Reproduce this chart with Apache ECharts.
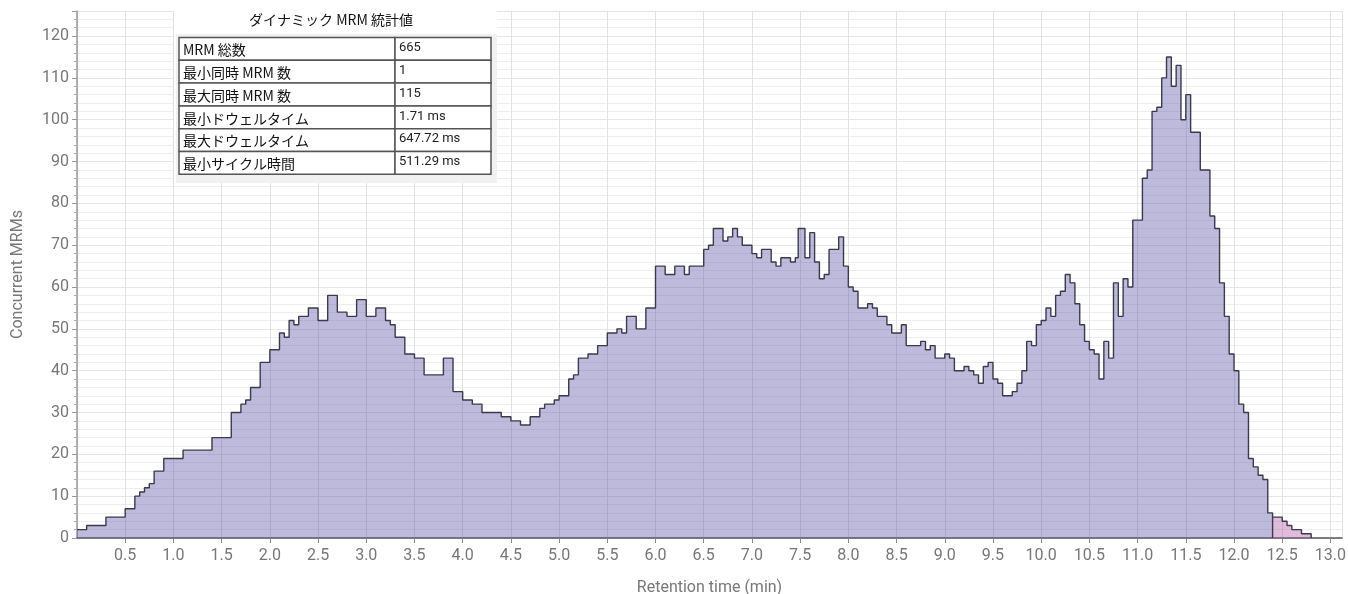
<!DOCTYPE html>
<html>
<head>
<meta charset="utf-8">
<script src="https://cdn.jsdelivr.net/npm/echarts@6/dist/echarts.min.js"></script>
<style>
  html, body { margin: 0; padding: 0; background: #ffffff; }
  #chart { width: 1348px; height: 594px; }
</style>
</head>
<body>
<div id="chart"></div>
<script>
// Concurrent MRM count over retention time (value holds until the next change point)
const times = [
  0.00, 0.10, 0.30, 0.50, 0.60, 0.65, 0.70, 0.75, 0.80, 0.90, 1.10, 1.40, 1.60, 1.70, 1.75, 1.80, 1.90,
  2.00, 2.10, 2.15, 2.20, 2.25, 2.30, 2.40, 2.50, 2.60, 2.70, 2.80, 2.90,
  3.00, 3.10, 3.20, 3.25, 3.30, 3.40, 3.50, 3.60, 3.80, 3.90,
  4.00, 4.10, 4.20, 4.40, 4.50, 4.60, 4.70, 4.80, 4.85, 4.95,
  5.00, 5.10, 5.15, 5.20, 5.30, 5.40, 5.50, 5.60, 5.65, 5.70, 5.80, 5.90,
  6.00, 6.10, 6.20, 6.30, 6.35, 6.50, 6.55, 6.60, 6.70, 6.75, 6.80, 6.85, 6.90,
  7.00, 7.05, 7.10, 7.20, 7.25, 7.30, 7.40, 7.45, 7.48, 7.55, 7.60, 7.65, 7.70, 7.75, 7.80, 7.90, 7.95,
  8.00, 8.05, 8.10, 8.20, 8.25, 8.30, 8.40, 8.45, 8.55, 8.60, 8.75, 8.80, 8.85, 8.90,
  9.00, 9.05, 9.10, 9.20, 9.25, 9.30, 9.35, 9.40, 9.45, 9.50, 9.55, 9.60, 9.70, 9.75, 9.80, 9.85, 9.90, 9.95,
  10.00, 10.05, 10.10, 10.15, 10.20, 10.25, 10.30, 10.35, 10.40, 10.45, 10.50, 10.55, 10.60, 10.65, 10.70, 10.75, 10.80, 10.85, 10.90, 10.95,
  11.05, 11.10, 11.15, 11.20, 11.25, 11.30, 11.35, 11.40, 11.45, 11.50, 11.55, 11.65, 11.75, 11.80, 11.85, 11.90, 11.95,
  12.00, 12.05, 12.10, 12.15, 12.20, 12.25, 12.30, 12.35, 12.40
];
const counts = [
  2, 3, 5, 7, 10, 11, 12, 13, 16, 19, 21, 24, 30, 32, 33, 36, 42,
  45, 49, 48, 52, 51, 53, 55, 52, 58, 54, 53, 57,
  53, 55, 52, 51, 48, 44, 43, 39, 43, 35,
  33, 32, 30, 29, 28, 27, 29, 31, 32, 33,
  34, 38, 39, 43, 44, 46, 49, 50, 49, 53, 50, 55,
  65, 63, 65, 63, 65, 69, 70, 74, 71, 72, 74, 72, 70,
  68, 67, 69, 66, 65, 67, 66, 67, 74, 67, 73, 66, 62, 63, 69, 72, 65,
  60, 59, 55, 56, 55, 53, 51, 49, 51, 46, 47, 45, 46, 43,
  44, 43, 40, 41, 40, 39, 37, 41, 42, 38, 37, 34, 35, 37, 40, 47, 46, 51,
  52, 55, 53, 58, 59, 63, 61, 56, 51, 47, 45, 44, 38, 47, 43, 61, 53, 62, 60, 76,
  86, 88, 102, 103, 110, 115, 108, 113, 100, 106, 97, 88, 77, 74, 61, 53, 44,
  40, 32, 30, 19, 17, 15, 14, 6, 0
];

// Trailing segment drawn in a second colour
const tailTimes = [12.40, 12.50, 12.55, 12.60, 12.70, 12.80];
const tailCounts = [5, 4, 3, 2, 1, 0];

// Summary table
const statTitle = 'ダイナミック MRM 統計値';
const statLabels = ['MRM 総数', '最小同時 MRM 数', '最大同時 MRM 数', '最小ドウェルタイム', '最大ドウェルタイム', '最小サイクル時間'];
const statValues = ['665', '1', '115', '1.71 ms', '647.72 ms', '511.29 ms'];

const FONT = 'Roboto, "Noto Sans CJK JP", sans-serif';
const CJK = '"Noto Sans CJK JP", Roboto, sans-serif';

function tableGraphics() {
  const x0 = 179, xMid = 395, x1 = 491, y0 = 37.5, rowH = 22.8;
  const els = [];
  // white panel hiding the grid behind the title and table
  els.push({
    type: 'rect', z: 100,
    shape: { x: 174, y: 9, width: 323, height: 174 },
    style: { fill: '#ffffff' }
  });
  // light grey backing around the table
  els.push({
    type: 'rect', z: 100,
    shape: { x: 176, y: 34, width: 321, height: 149 },
    style: { fill: '#f1f1f1' }
  });
  els.push({
    type: 'text', z: 101,
    style: { x: 331, y: 20, text: statTitle, fill: '#111', font: '14px ' + CJK, textAlign: 'center', textVerticalAlign: 'middle' }
  });
  statLabels.forEach((lab, i) => {
    const y = y0 + i * rowH;
    els.push({
      type: 'rect', z: 101,
      shape: { x: x0, y: y, width: xMid - x0, height: rowH },
      style: { fill: '#ffffff', stroke: '#555', lineWidth: 1.5 }
    });
    els.push({
      type: 'rect', z: 101,
      shape: { x: xMid, y: y, width: x1 - xMid, height: rowH },
      style: { fill: '#ffffff', stroke: '#555', lineWidth: 1.5 }
    });
    els.push({
      type: 'text', z: 102,
      style: { x: x0 + 4, y: y + rowH / 2 + 1, text: lab, fill: '#111', font: '14px ' + CJK, textVerticalAlign: 'middle' }
    });
    els.push({
      type: 'text', z: 102,
      style: { x: xMid + 4, y: y + rowH / 2 - 1, text: statValues[i], fill: '#222', font: '13px ' + FONT, textVerticalAlign: 'middle' }
    });
  });
  return els;
}

const chart = echarts.init(document.getElementById('chart'), null, { renderer: 'canvas' });

chart.setOption({
  animation: false,
  backgroundColor: '#ffffff',
  grid: { left: 77, right: 6, top: 11, bottom: 56, containLabel: false, outerBoundsMode: 'none' },
  xAxis: {
    type: 'value',
    min: 0, max: 13.12, interval: 0.5,
    name: 'Retention time (min)',
    nameLocation: 'middle', nameGap: 42,
    nameTextStyle: { color: '#777', fontSize: 16, fontFamily: FONT },
    axisLine: { show: true, lineStyle: { color: '#555', width: 1.5 } },
    axisTick: { show: true, length: 5, lineStyle: { color: '#888' } },
    axisLabel: {
      color: '#777', fontSize: 16, fontFamily: FONT, margin: 10,
      showMinLabel: false, showMaxLabel: false,
      formatter: v => v.toFixed(1)
    },
    splitLine: { show: true, lineStyle: { color: '#e2e2e2', width: 1 } }
  },
  yAxis: {
    type: 'value',
    min: 0, max: 126, interval: 10,
    name: 'Concurrent MRMs',
    nameLocation: 'middle', nameGap: 51, nameRotate: 90,
    nameTextStyle: { color: '#777', fontSize: 16, fontFamily: FONT },
    axisLine: { show: true, lineStyle: { color: '#999', width: 1.5 } },
    axisTick: { show: true, length: 5, lineStyle: { color: '#999' } },
    minorTick: { show: true, splitNumber: 5, length: 3, lineStyle: { color: '#aaa' } },
    axisLabel: { color: '#777', fontSize: 16, fontFamily: FONT, margin: 8, showMaxLabel: false },
    splitLine: { show: true, lineStyle: { color: '#e6e6e6', width: 1 } },
    minorSplitLine: { show: true, lineStyle: { color: '#eeeeee', width: 1 } }
  },
  series: [
    {
      type: 'line', step: 'end', symbol: 'none', z: 3,
      data: times.map((t, i) => [t, counts[i]]),
      lineStyle: { color: '#3a3a4c', width: 1.4 },
      areaStyle: { color: 'rgba(92,82,168,0.4)', opacity: 1, origin: 'start' }
    },
    {
      type: 'line', step: 'end', symbol: 'none', z: 3,
      data: tailTimes.map((t, i) => [t, tailCounts[i]]),
      lineStyle: { color: '#3a3a4c', width: 1.4 },
      areaStyle: { color: 'rgba(172,78,160,0.38)', opacity: 1, origin: 'start' }
    }
  ],
  graphic: tableGraphics()
});
</script>
</body>
</html>
